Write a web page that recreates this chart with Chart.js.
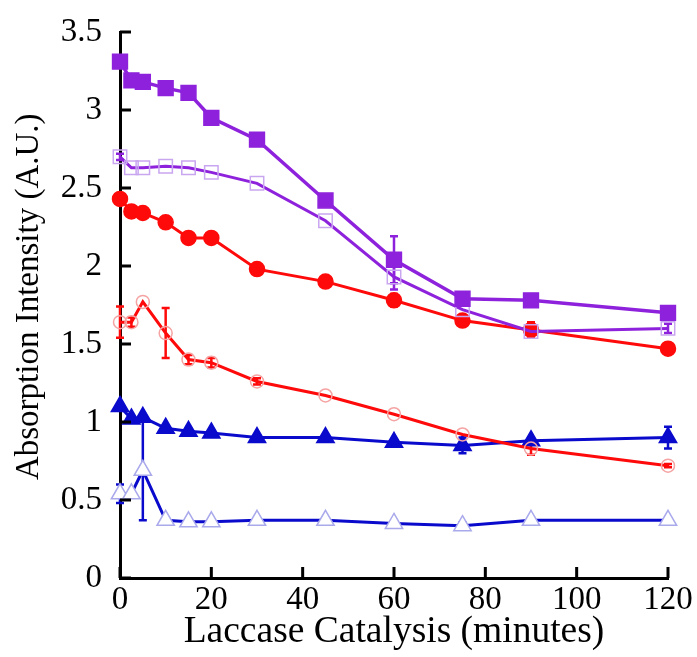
<!DOCTYPE html>
<html lang="en">
<head>
<meta charset="UTF-8">
<title>Absorption Intensity vs Laccase Catalysis</title>
<script src="https://cdn.jsdelivr.net/npm/chart.js"></script>
<style>
  html, body { margin: 0; padding: 0; background: #fff; }
  #wrap { width: 697px; height: 657px; }
</style>
</head>
<body>
<div id="wrap"><canvas id="chart"></canvas></div>
<script>
// sampling times (minutes)
const times = [0, 2.5, 5, 10, 15, 20, 30, 45, 60, 75, 90, 120];
const xTicks = [0, 20, 40, 60, 80, 100, 120];
const yTicks = [0, 0.5, 1, 1.5, 2, 2.5, 3, 3.5];

// series values, with error bar half-heights
const purpleFilled    = [3.31, 3.19, 3.18, 3.14, 3.11, 2.95, 2.81, 2.42, 2.04, 1.79, 1.78, 1.70];
const purpleFilledErr = [0, 0, 0, 0, 0, 0, 0, 0, 0.15, 0.03, 0.02, 0.02];
const purpleOpen      = [2.70, 2.63, 2.63, 2.64, 2.63, 2.60, 2.53, 2.29, 1.93, 1.72, 1.58, 1.60];
const purpleOpenErr   = [0.02, 0, 0, 0, 0, 0, 0, 0, 0.08, 0, 0, 0.03];
const redFilled       = [2.43, 2.35, 2.34, 2.28, 2.18, 2.18, 1.98, 1.90, 1.78, 1.65, 1.59, 1.47];
const redFilledErr    = [0, 0, 0, 0, 0, 0.03, 0, 0, 0.04, 0, 0.05, 0];
const redOpen         = [1.64, 1.64, 1.77, 1.57, 1.40, 1.38, 1.26, 1.17, 1.05, 0.92, 0.83, 0.72];
const redOpenErr      = [0.1, 0.03, 0, 0.16, 0.03, 0.03, 0.02, 0, 0, 0, 0.04, 0.01];
const blueFilled      = [1.10, 1.02, 1.03, 0.96, 0.94, 0.93, 0.90, 0.90, 0.87, 0.85, 0.88, 0.90];
const blueFilledErr   = [0, 0, 0, 0, 0, 0, 0, 0, 0, 0.05, 0, 0.07];
const blueOpen        = [0.54, 0.54, 0.69, 0.37, 0.36, 0.36, 0.37, 0.37, 0.35, 0.335, 0.37, 0.37];
const blueOpenErr     = [0.06, 0, 0.32, 0, 0, 0, 0, 0, 0, 0.02, 0, 0];

const PURPLE = '#8e22dc', RED = '#ff0a0a', BLUE = '#0a0acc';
const SERIF = '"Liberation Serif", "Times New Roman", serif';

function pts(vals) {
    return times.map((t, i) => ({x: t, y: vals[i]}));
}

function series(vals, errs, line, opts) {
    return Object.assign({
        data: pts(vals),
        errors: errs,
        borderColor: line,
        borderWidth: 3,
        pointBorderWidth: 1.5,
        clip: false,
        tension: 0
    }, opts);
}

// error bars + inward tick marks
const extras = {
    id: 'extras',
    beforeDatasetsDraw(chart) {
        const {ctx, scales: {x, y}} = chart;
        chart.data.datasets.forEach(ds => {
            ctx.save();
            ctx.strokeStyle = ds.borderColor;
            ctx.lineWidth = 2.5;
            ds.errors.forEach((e, j) => {
                if (!e) return;
                const px = x.getPixelForValue(times[j]);
                const top = y.getPixelForValue(ds.data[j].y + e);
                const bot = y.getPixelForValue(ds.data[j].y - e);
                ctx.beginPath();
                ctx.moveTo(px, top); ctx.lineTo(px, bot);
                ctx.moveTo(px - 4, top); ctx.lineTo(px + 4, top);
                ctx.moveTo(px - 4, bot); ctx.lineTo(px + 4, bot);
                ctx.stroke();
            });
            ctx.restore();
        });
    },
    afterDraw(chart) {
        const {ctx, scales: {x, y}} = chart;
        ctx.save();
        ctx.strokeStyle = '#000';
        ctx.lineWidth = 3;
        ctx.beginPath();
        yTicks.forEach(v => {
            const py = y.getPixelForValue(v);
            ctx.moveTo(x.left, py); ctx.lineTo(x.left + 11, py);
        });
        xTicks.forEach(v => {
            const px = x.getPixelForValue(v);
            ctx.moveTo(px, y.bottom); ctx.lineTo(px, y.bottom - 11);
        });
        ctx.stroke();
        ctx.restore();
    }
};

new Chart(document.getElementById('chart'), {
    type: 'line',
    data: {
        datasets: [
            series(purpleFilled, purpleFilledErr, PURPLE, {
                borderWidth: 3.5, pointStyle: 'rect', pointRadius: 10.5,
                pointBackgroundColor: PURPLE, pointBorderColor: PURPLE
            }),
            series(purpleOpen, purpleOpenErr, PURPLE, {
                pointStyle: 'rect', pointRadius: 9.5,
                pointBackgroundColor: 'rgba(0,0,0,0)', pointBorderColor: '#c9a6f0'
            }),
            series(redFilled, redFilledErr, RED, {
                pointStyle: 'circle', pointRadius: 7.5,
                pointBackgroundColor: RED, pointBorderColor: RED
            }),
            series(redOpen, redOpenErr, RED, {
                pointStyle: 'circle', pointRadius: 6.5,
                pointBackgroundColor: 'rgba(0,0,0,0)', pointBorderColor: '#f5a3a3'
            }),
            series(blueFilled, blueFilledErr, BLUE, {
                pointStyle: 'triangle', pointRadius: 10,
                pointBackgroundColor: BLUE, pointBorderColor: BLUE
            }),
            series(blueOpen, blueOpenErr, BLUE, {
                pointStyle: 'triangle', pointRadius: 10,
                pointBackgroundColor: '#fff', pointBorderColor: '#a9a9ec'
            })
        ]
    },
    options: {
        responsive: true,
        maintainAspectRatio: false,
        animation: false,
        layout: {padding: {top: 32, right: 29, bottom: 0, left: 0}},
        plugins: {legend: {display: false}, tooltip: {enabled: false}},
        scales: {
            x: {
                type: 'linear',
                min: 0,
                max: 120,
                afterBuildTicks: s => { s.ticks = xTicks.map(v => ({value: v})); },
                afterFit: s => { s.height = 79; },
                grid: {display: false, drawTicks: false},
                border: {color: '#000', width: 3},
                ticks: {color: '#000', padding: 3, maxRotation: 0,
                    font: {family: SERIF, size: 33}, callback: v => String(v)},
                title: {display: true, text: 'Laccase Catalysis (minutes)', color: '#000',
                    padding: {top: 0, bottom: 2}, font: {family: SERIF, size: 37.5}}
            },
            y: {
                min: 0,
                max: 3.5,
                afterBuildTicks: s => { s.ticks = yTicks.map(v => ({value: v})); },
                afterFit: s => { s.width = 120; s.paddingTop = 10; s.paddingBottom = 10; },
                grid: {display: false, drawTicks: false},
                border: {color: '#000', width: 3},
                ticks: {color: '#000', padding: 18,
                    font: {family: SERIF, size: 33}, callback: v => String(v)},
                // leading spaces nudge the rotated label up, as in the figure
                title: {display: true, text: '  Absorption Intensity (A.U.)', color: '#000',
                    padding: {top: 10, bottom: 0}, font: {family: SERIF, size: 33}}
            }
        }
    },
    plugins: [extras]
});
</script>
</body>
</html>
